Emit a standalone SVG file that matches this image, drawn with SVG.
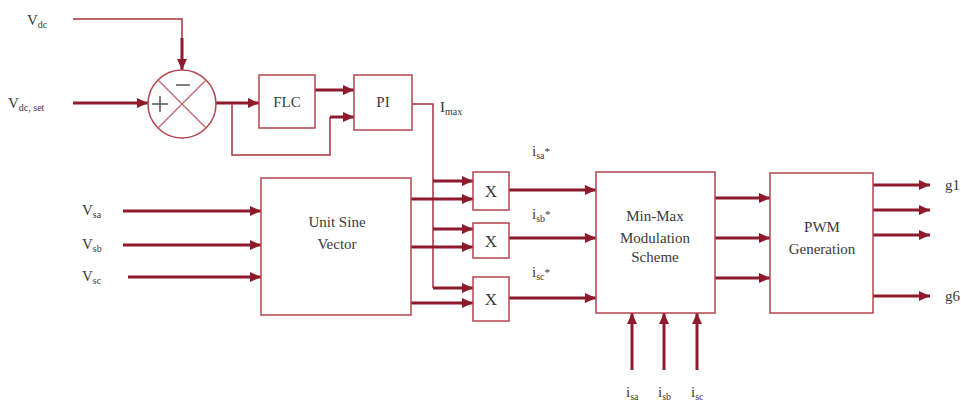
<svg xmlns="http://www.w3.org/2000/svg" width="961" height="404" viewBox="0 0 961 404" font-family="'Liberation Serif', 'Times New Roman', serif">
<style>
.box{fill:#fff;stroke:#b4444f;stroke-width:1.5}
.thick{fill:none;stroke:#8e1b2c;stroke-width:3}
.thin{fill:none;stroke:#a8323f;stroke-width:1.5}
text{font-family:"Liberation Serif","Times New Roman",serif;font-size:15px;fill:#3a3a3a}
.sub{font-size:10px}
.c{text-anchor:middle}
</style>
<defs>
<marker id="ah" markerUnits="userSpaceOnUse" markerWidth="12" markerHeight="10" refX="11" refY="5" orient="auto">
<path d="M0,0 L11,5 L0,10 z" fill="#8e1b2c"/>
</marker>
</defs>
<rect width="961" height="404" fill="#fff"/>
<g id="connectors">
<path class="thin" d="M73,19 H182 V40"/>
<path class="thick" d="M182,38 V70" marker-end="url(#ah)"/>
<path class="thick" d="M73,103 H148" marker-end="url(#ah)"/>
<path class="thick" d="M216,103 H259" marker-end="url(#ah)"/>
<path class="thin" d="M232,103 V155 H330 V117"/>
<path class="thick" d="M330,117 H354" marker-end="url(#ah)"/>
<path class="thick" d="M315,90 H354" marker-end="url(#ah)"/>
<path class="thin" d="M412,104 H433 V288"/>
<path class="thick" d="M433,181 H473" marker-end="url(#ah)"/>
<path class="thick" d="M433,229 H473" marker-end="url(#ah)"/>
<path class="thick" d="M433,288 H473" marker-end="url(#ah)"/>
<path class="thick" d="M411,199 H473" marker-end="url(#ah)"/>
<path class="thick" d="M411,247 H473" marker-end="url(#ah)"/>
<path class="thick" d="M411,303 H473" marker-end="url(#ah)"/>
<path class="thick" d="M123,211 H261" marker-end="url(#ah)"/>
<path class="thick" d="M123,245 H261" marker-end="url(#ah)"/>
<path class="thick" d="M128,277 H261" marker-end="url(#ah)"/>
<path class="thick" d="M509,190 H596" marker-end="url(#ah)"/>
<path class="thick" d="M509,238 H596" marker-end="url(#ah)"/>
<path class="thick" d="M509,298 H596" marker-end="url(#ah)"/>
<path class="thick" d="M715,198 H770" marker-end="url(#ah)"/>
<path class="thick" d="M715,238 H770" marker-end="url(#ah)"/>
<path class="thick" d="M715,278 H770" marker-end="url(#ah)"/>
<path class="thick" d="M873,185 H930" marker-end="url(#ah)"/>
<path class="thick" d="M873,210 H930" marker-end="url(#ah)"/>
<path class="thick" d="M873,235 H930" marker-end="url(#ah)"/>
<path class="thick" d="M873,296 H930" marker-end="url(#ah)"/>
<path class="thick" d="M632,370 V313" marker-end="url(#ah)"/>
<path class="thick" d="M664,370 V313" marker-end="url(#ah)"/>
<path class="thick" d="M697,370 V313" marker-end="url(#ah)"/>
</g>
<g id="sum">
<circle cx="182" cy="104" r="34" fill="#fff" stroke="#b4444f" stroke-width="1.5"/>
<path d="M158,80 L206,128 M206,80 L158,128" stroke="#c0606a" stroke-width="1.2"/>
<path d="M152,104 H168 M160,96 V112" stroke="#555" stroke-width="1.5"/>
<path d="M176,85 H190" stroke="#555" stroke-width="1.5"/>
</g>
<g id="flc"><rect class="box" x="259" y="75" width="56" height="53"/><text class="c" x="287" y="107">FLC</text></g>
<g id="pi"><rect class="box" x="354" y="75" width="58" height="55"/><text class="c" x="383" y="107">PI</text></g>
<g id="usv"><rect class="box" x="261" y="178" width="150" height="137"/><text class="c" x="337" y="227">Unit Sine</text><text class="c" x="337" y="249">Vector</text></g>
<g id="x1"><rect class="box" x="473" y="172" width="36" height="38"/><text class="c" x="491" y="197" style="font-size:17px">X</text></g>
<g id="x2"><rect class="box" x="473" y="223" width="36" height="35"/><text class="c" x="491" y="247" style="font-size:17px">X</text></g>
<g id="x3"><rect class="box" x="473" y="277" width="36" height="44"/><text class="c" x="491" y="305" style="font-size:17px">X</text></g>
<g id="minmax"><rect class="box" x="596" y="172" width="119" height="141"/><text class="c" x="655" y="221">Min-Max</text><text class="c" x="655" y="243">Modulation</text><text class="c" x="655" y="262">Scheme</text></g>
<g id="pwm"><rect class="box" x="770" y="173" width="103" height="140"/><text class="c" x="822" y="232">PWM</text><text class="c" x="822" y="254">Generation</text></g>
<g id="labels">
<text x="27" y="25">V<tspan class="sub" dy="3">dc</tspan></text>
<text x="8" y="108">V<tspan class="sub" dy="3">dc, set</tspan></text>
<text x="440" y="112">I<tspan class="sub" dy="3">max</tspan></text>
<text x="82" y="215">V<tspan class="sub" dy="3">sa</tspan></text>
<text x="82" y="249">V<tspan class="sub" dy="3">sb</tspan></text>
<text x="82" y="281">V<tspan class="sub" dy="3">sc</tspan></text>
<text x="532" y="156">i<tspan class="sub" dy="3">sa</tspan><tspan dy="-4" style="font-size:11px">*</tspan></text>
<text x="532" y="219">i<tspan class="sub" dy="3">sb</tspan><tspan dy="-4" style="font-size:11px">*</tspan></text>
<text x="532" y="277">i<tspan class="sub" dy="3">sc</tspan><tspan dy="-4" style="font-size:11px">*</tspan></text>
<text x="945" y="190">g1</text>
<text x="945" y="301">g6</text>
<text x="626" y="397">i<tspan class="sub" dy="3">sa</tspan></text>
<text x="658" y="397">i<tspan class="sub" dy="3">sb</tspan></text>
<text x="691" y="397">i<tspan class="sub" dy="3">sc</tspan></text>
</g>
</svg>
